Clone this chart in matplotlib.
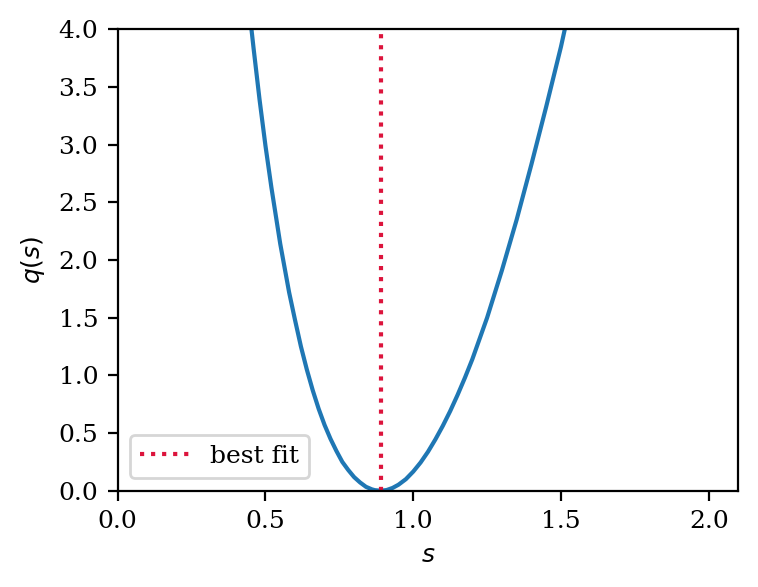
import matplotlib
matplotlib.use("Agg")
import matplotlib.pyplot as plt

plt.rcParams['font.family'] = 'serif'
plt.rcParams['font.size'] = 9
plt.rcParams['mathtext.fontset'] = 'dejavusans'

# curve q(s), values
s_vals = [0.44, 0.45, 0.46, 0.48, 0.50, 0.52, 0.55, 0.58, 0.60, 0.62, 0.64, 0.66,
          0.68, 0.70, 0.72, 0.74, 0.76, 0.78, 0.80, 0.82, 0.84, 0.86, 0.87, 0.89,
          0.91, 0.93, 0.95, 0.975, 1.00, 1.025, 1.05, 1.075, 1.10, 1.125, 1.15,
          1.175, 1.20, 1.225, 1.25, 1.30, 1.35, 1.40, 1.45, 1.50, 1.53]
q_vals = [4.30, 4.06, 3.83, 3.39, 2.99, 2.63, 2.14, 1.72, 1.48, 1.25, 1.05, 0.87,
          0.71, 0.57, 0.45, 0.345, 0.25, 0.18, 0.118, 0.072, 0.034, 0.012, 0.005, 0.0,
          0.006, 0.024, 0.052, 0.10, 0.166, 0.245, 0.338, 0.445, 0.562, 0.69, 0.83,
          0.98, 1.14, 1.32, 1.50, 1.91, 2.35, 2.83, 3.33, 3.85, 4.20]
best_fit_s = 0.8895

fig = plt.figure(figsize=(3.79, 2.935), dpi=200)
ax = fig.add_axes([0.1553, 0.164, 0.9740 - 0.1553, 0.950 - 0.164])
ax.plot(s_vals, q_vals, color='#1f77b4', lw=1.5)
ax.axvline(best_fit_s, color='crimson', ls=':', lw=1.5, label='best fit')
ax.set_xlim(0, 2.1)
ax.set_ylim(0, 4)
ax.set_xlabel('$s$')
ax.set_ylabel('$q(s)$')
ax.legend(loc='lower left')
fig.savefig('out.png', dpi=200)
